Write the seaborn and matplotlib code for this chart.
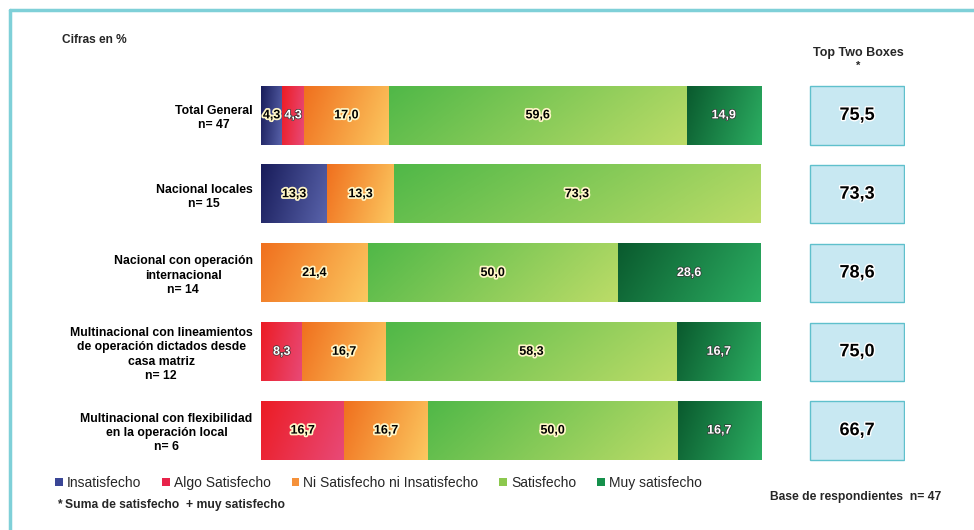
import matplotlib
matplotlib.use("Agg")
import matplotlib.pyplot as plt
import matplotlib.patheffects as pe
from matplotlib.patches import Patch
from matplotlib.colors import LinearSegmentedColormap
import seaborn as sns
import numpy as np
import pandas as pd

# ---------------- data ----------------
categories = [
    "Total General\nn= 47",
    "Nacional locales\nn= 15",
    "Nacional con operación\ninternacional\nn= 14",
    "Multinacional con lineamientos\nde operación dictados desde\ncasa matriz\nn= 12",
    "Multinacional con flexibilidad\nen la operación local\nn= 6",
]
series_names = ["Insatisfecho", "Algo Satisfecho", "Ni Satisfecho ni Insatisfecho",
                "Satisfecho", "Muy satisfecho"]
insatisfecho = [4.3, 13.3, 0.0, 0.0, 0.0]
algo_satisfecho = [4.3, 0.0, 0.0, 8.3, 16.7]
ni_satisfecho = [17.0, 13.3, 21.4, 16.7, 16.7]
satisfecho = [59.6, 73.3, 50.0, 58.3, 50.0]
muy_satisfecho = [14.9, 0.0, 28.6, 16.7, 16.7]
top_two = [75.5, 73.3, 78.6, 75.0, 66.7]

series = [insatisfecho, algo_satisfecho, ni_satisfecho, satisfecho, muy_satisfecho]

# ---------------- style ----------------
sns.set_theme(style="white")
plt.rcParams["font.family"] = ["Liberation Sans Narrow", "Liberation Sans", "DejaVu Sans"]

flat_colors = ["#3a4696", "#e8234a", "#f5913a", "#8cc84e", "#15904b"]
grad_colors = [("#181c5a", "#5a64ac"), ("#ec1c24", "#e84a78"), ("#f0701e", "#fcc860"),
               ("#50b848", "#bcdc68"), ("#0a5a2e", "#2cae62")]

W, H = 974, 530
fig = plt.figure(figsize=(W / 100, H / 100), dpi=100)

def fx(px):
    return px / W

def fy(py):
    return 1 - py / H

# frame lines (top and left)
fig.add_artist(plt.Line2D([fx(10), 1], [fy(10), fy(10)], color="#7fd0d8", lw=2.5))
fig.add_artist(plt.Line2D([fx(10), fx(10)], [fy(10), 0], color="#7fd0d8", lw=2.5))

# main bar axes
ax = fig.add_axes([fx(261), fy(470), fx(761) - fx(261), fy(76) - fy(470)])
bar_h = 0.74

cums = np.cumsum(np.array(series), axis=0)

for i in range(len(series) - 1, -1, -1):
    sns.barplot(x=cums[i], y=categories, orient="h", color=flat_colors[i],
                saturation=1, width=bar_h, linewidth=0, ax=ax, order=categories)

# gradient overlays on each segment
gy, gx = np.mgrid[0:1:40j, 0:1:120j]
grad = np.clip(0.8 * gx + 0.2 * gy, 0, 1)
for i, vals in enumerate(series):
    cmap = LinearSegmentedColormap.from_list("g%d" % i, grad_colors[i])
    for r, v in enumerate(vals):
        if v <= 0:
            continue
        left = cums[i][r] - v
        ax.imshow(grad, cmap=cmap, extent=(left, left + v, r + bar_h / 2, r - bar_h / 2),
                  aspect="auto", interpolation="bilinear", zorder=3)
        if i == 4 or (i == 1 and v < 10):
            col, stroke, lw = "white", "#333333", 1.0
        else:
            col, stroke, lw = "black", "#fff6c8", 2.5
        ax.text(left + v / 2, r, f"{v:.1f}".replace(".", ","), ha="center", va="center",
                fontsize=9, fontweight="bold", color=col, zorder=5,
                path_effects=[pe.withStroke(linewidth=lw, foreground=stroke)])

ax.set_xlim(0, 100.1)
ax.set_ylim(len(categories) - 0.5, -0.5)
ax.set_xlabel("")
ax.set_ylabel("")
ax.set_xticks([])
ax.set_yticks(range(len(categories)))
ax.set_yticklabels(categories, fontsize=8.8, fontweight="bold", color="black",
                   linespacing=1.25)
for t in ax.get_yticklabels():
    t.set_multialignment("center")
ax.tick_params(axis="y", length=0, pad=6)
for s in ax.spines.values():
    s.set_visible(False)
ax.set_facecolor("none")

# Top Two Boxes axes
ax2 = fig.add_axes([fx(809), fy(470), fx(905) - fx(809), fy(76) - fy(470)])
ax2.barh(np.arange(len(top_two)), 1, height=bar_h, color="#c8e8f2", edgecolor="#5fc0cc", lw=1)
for r, v in enumerate(top_two):
    ax2.text(0.5, r, f"{v:.1f}".replace(".", ","), ha="center", va="center",
             fontsize=13, fontweight="bold", color="black",
             path_effects=[pe.withStroke(linewidth=2, foreground="white")])
ax2.set_xlim(-0.01, 1.01)
ax2.set_ylim(len(top_two) - 0.5, -0.5)
ax2.axis("off")

# titles / notes
fig.text(fx(62), fy(40), "Cifras en %", fontsize=8.6, fontweight="bold", va="center")
fig.text(fx(858), fy(53), "Top Two Boxes", fontsize=9, fontweight="bold", ha="center", va="center")
fig.text(fx(858), fy(66), "*", fontsize=8, fontweight="bold", ha="center", va="center")
fig.text(fx(57), fy(505), "* Suma de satisfecho  + muy satisfecho", fontsize=8.7,
         fontweight="bold", va="center")
fig.text(fx(770), fy(497), "Base de respondientes  n= 47", fontsize=8.7,
         fontweight="bold", va="center")

handles = [Patch(facecolor=c, edgecolor="none") for c in flat_colors]
fig.legend(handles, series_names, loc="center left", bbox_to_anchor=(fx(55), fy(483)),
           ncol=5, frameon=False, fontsize=10, handlelength=0.55, handleheight=0.55,
           handletextpad=0.3, columnspacing=1.5, borderaxespad=0, borderpad=0)

fig.savefig("out.png", dpi=100)
